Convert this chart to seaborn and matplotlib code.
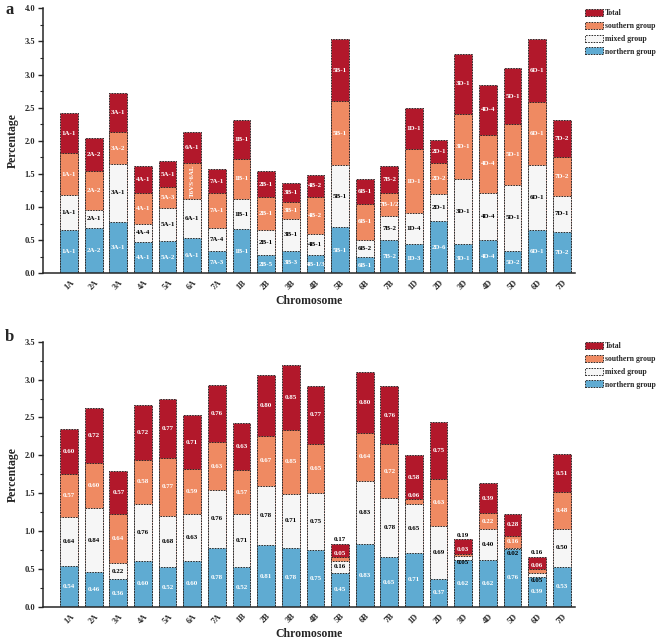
import matplotlib
matplotlib.use("Agg")
import matplotlib.pyplot as plt
import seaborn as sns
import numpy as np
from matplotlib.patches import Patch
from matplotlib.ticker import MultipleLocator, AutoMinorLocator

chromosomes = ['1A', '2A', '3A', '4A', '5A', '6A', '7A', '1B', '2B', '3B', '4B',
               '5B', '6B', '7B', '1D', '2D', '3D', '4D', '5D', '6D', '7D']

# panel a: segment heights (northern, mixed, southern, total)
a_northern = [0.65, 0.69, 0.78, 0.48, 0.49, 0.54, 0.34, 0.67, 0.28, 0.34, 0.28,
              0.70, 0.24, 0.50, 0.45, 0.79, 0.45, 0.50, 0.34, 0.65, 0.63]
a_mixed = [0.53, 0.26, 0.87, 0.27, 0.50, 0.58, 0.34, 0.45, 0.37, 0.48, 0.32,
           0.93, 0.26, 0.36, 0.46, 0.41, 0.98, 0.72, 1.00, 0.98, 0.54]
a_southern = [0.63, 0.60, 0.48, 0.47, 0.31, 0.55, 0.53, 0.61, 0.50, 0.25, 0.55,
              0.97, 0.55, 0.36, 0.96, 0.46, 0.98, 0.87, 0.91, 0.96, 0.59]
a_total = [0.61, 0.49, 0.59, 0.40, 0.39, 0.46, 0.36, 0.58, 0.39, 0.30, 0.34,
           0.93, 0.38, 0.40, 0.62, 0.36, 0.90, 0.76, 0.85, 0.94, 0.56]

a_northern_lbl = ['1A-1', '2A-2', '3A-1', '4A-1', '5A-2', '6A-1', '7A-3', '1B-1', '2B-5', '3B-3', '4B-1/3',
                  '5B-1', '6B-1', '7B-2', '1D-3', '2D-6', '3D-1', '4D-4', '5D-2', '6D-1', '7D-2']
a_mixed_lbl = ['1A-1', '2A-1', '3A-1', '4A-4', '5A-1', '6A-1', '7A-4', '1B-1', '2B-1', '3B-1', '4B-1',
               '5B-1', '6B-2', '7B-2', '1D-4', '2D-1', '3D-1', '4D-4', '5D-1', '6D-1', '7D-1']
a_southern_lbl = ['1A-1', '2A-2', '3A-2', '4A-1', '5A-3', 'T6VS·6AL', '7A-1', '1B-1', '2B-1', '3B-1', '4B-2',
                  '5B-1', '6B-1', '7B-1/2', '1D-1', '2D-2', '3D-1', '4D-4', '5D-1', '6D-1', '7D-2']
a_total_lbl = ['1A-1', '2A-2', '3A-1', '4A-1', '5A-1', '6A-1', '7A-1', '1B-1', '2B-1', '3B-1', '4B-2',
               '5B-1', '6B-1', '7B-2', '1D-1', '2D-1', '3D-1', '4D-4', '5D-1', '6D-1', '7D-2']

# panel b: segment heights
b_northern = [0.54, 0.46, 0.36, 0.60, 0.52, 0.60, 0.78, 0.52, 0.81, 0.78, 0.75,
              0.45, 0.83, 0.65, 0.71, 0.37, 0.62, 0.62, 0.76, 0.39, 0.53]
b_mixed = [0.64, 0.84, 0.22, 0.76, 0.68, 0.63, 0.76, 0.71, 0.78, 0.71, 0.75,
           0.16, 0.83, 0.78, 0.65, 0.69, 0.05, 0.40, 0.02, 0.05, 0.50]
b_southern = [0.57, 0.60, 0.64, 0.58, 0.77, 0.59, 0.63, 0.57, 0.67, 0.85, 0.65,
              0.05, 0.64, 0.72, 0.06, 0.63, 0.03, 0.22, 0.16, 0.06, 0.48]
b_total = [0.60, 0.72, 0.57, 0.72, 0.77, 0.71, 0.76, 0.63, 0.80, 0.85, 0.77,
           0.17, 0.80, 0.76, 0.58, 0.75, 0.19, 0.39, 0.28, 0.16, 0.51]

groups = ['northern group', 'mixed group', 'southern group', 'Total']
colors = ['#5fabd2', '#f6f6f6', '#ef8a62', '#b2182b']
text_colors = ['white', 'black', 'white', 'white']

SERIF = 'Liberation Serif'
EDGE = dict(edgecolor='#2a2a2a', linewidth=0.7, linestyle=(0, (1.6, 1.2)))

sns.set_style('ticks')
plt.rcParams['font.family'] = [SERIF, 'DejaVu Serif']
plt.rcParams['font.weight'] = 'bold'

fig = plt.figure(figsize=(6.61, 6.41), dpi=100)
ax_a = fig.add_axes([0.065, 0.5736, 0.805, 0.4134])
ax_b = fig.add_axes([0.065, 0.0535, 0.805, 0.4134])


def stacked(ax, layers, ymax):
    cum = np.cumsum(np.array(layers), axis=0)
    # draw from the top layer down so lower segments cover the taller bars
    for i in range(len(layers) - 1, -1, -1):
        sns.barplot(x=chromosomes, y=cum[i], color=colors[i], width=0.72,
                    saturation=1, errorbar=None, ax=ax, **EDGE)
    ax.set_xlim(-1.06, len(chromosomes) - 0.46)
    ax.set_ylim(0, ymax)
    ax.yaxis.set_major_locator(MultipleLocator(0.5))
    ax.yaxis.set_minor_locator(AutoMinorLocator(2))
    ax.yaxis.set_major_formatter(matplotlib.ticker.FormatStrFormatter('%.1f'))
    ax.tick_params(axis='y', which='major', length=3.5, width=1, labelsize=6, pad=2)
    ax.tick_params(axis='y', which='minor', length=2, width=0.8)
    ax.tick_params(axis='x', length=0, labelsize=6, pad=4, labelrotation=45)
    for lab in ax.get_xticklabels():
        lab.set_ha('center')
        lab.set_fontweight('bold')
    for lab in ax.get_yticklabels():
        lab.set_fontweight('bold')
    ax.set_ylabel('Percentage', fontsize=8.5, fontweight='bold', labelpad=4)
    ax.set_xlabel('Chromosome', fontsize=8.5, fontweight='bold', labelpad=2)
    sns.despine(ax=ax)
    for s in ['left', 'bottom']:
        ax.spines[s].set_linewidth(1.1)
    handles = [Patch(facecolor=colors[i], label=groups[i], **EDGE) for i in range(3, -1, -1)]
    return cum, handles


# ---- panel a ----
cum_a, handles = stacked(ax_a, [a_northern, a_mixed, a_southern, a_total], 4.0)
a_labels = [a_northern_lbl, a_mixed_lbl, a_southern_lbl, a_total_lbl]
for i in range(4):
    for j in range(len(chromosomes)):
        seg = cum_a[i][j] - (cum_a[i - 1][j] if i > 0 else 0)
        mid = cum_a[i][j] - seg / 2
        txt = a_labels[i][j]
        rot = 90 if len(txt) > 6 else 0
        ax_a.text(j, mid, txt, ha='center', va='center', fontsize=5, fontweight='bold',
                  color=text_colors[i], rotation=rot)

# ---- panel b ----
b_layers = [b_northern, b_mixed, b_southern, b_total]
cum_b, _ = stacked(ax_b, b_layers, 3.5)
for i in range(4):
    for j in range(len(chromosomes)):
        seg = b_layers[i][j]
        mid = cum_b[i][j] - seg / 2
        color = text_colors[i]
        dy = 0
        va = 'center'
        y = mid
        if i == 1 and seg < 0.1:
            dy = -3.5
            color = 'black'
        elif i == 2 and seg < 0.1:
            dy = 4
        elif i == 3 and seg < 0.2:
            y = cum_b[i][j]
            va = 'bottom'
            dy = 1
            color = 'black'
        ax_b.annotate(f'{seg:.2f}', (j, y), xytext=(0, dy), textcoords='offset points',
                      ha='center', va=va, fontsize=5, fontweight='bold', color=color)

for top in [1 - 9 / 641, 1 - 342 / 641]:
    fig.legend(handles=handles, loc='upper left', bbox_to_anchor=(585 / 661, top),
               frameon=False, prop={'weight': 'bold', 'size': 5.6},
               handlelength=2.3, handleheight=1.0, handletextpad=0.3,
               labelspacing=0.6, borderpad=0, borderaxespad=0)

fig.text(5 / 661, 1 - 10 / 641, 'a', fontsize=12, fontweight='bold', va='center')
fig.text(5 / 661, 1 - 337 / 641, 'b', fontsize=12, fontweight='bold', va='center')

fig.savefig('out.png', dpi=100)
